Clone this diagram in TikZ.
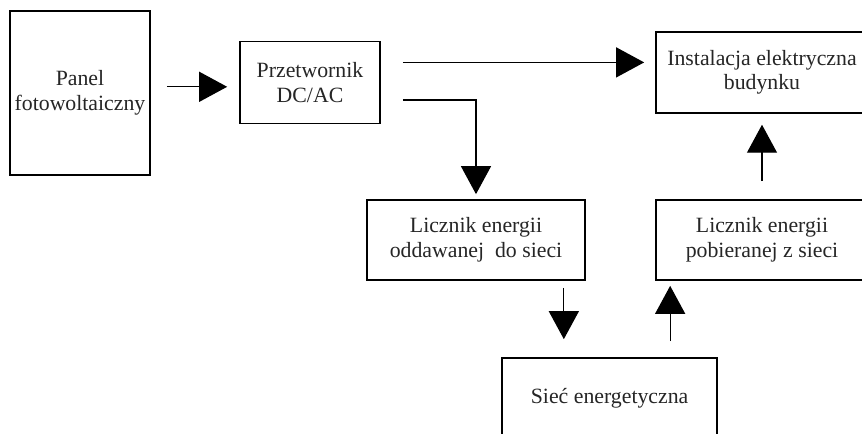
\documentclass[tikz,border=0pt]{standalone}
\usepackage{fontspec}
\setmainfont{Liberation Serif}
\usepackage{tikz}
\usepackage{xcolor}
\usetikzlibrary{arrows.meta}
\tikzstyle{block} = [rectangle, minimum height=2cm, text centered, align=center, draw=black, line width=1.2pt, text=black!85, font=\fontsize{15.5}{17.5}\selectfont]
\tikzstyle{arrow} = [line width=0.9pt, -{Triangle[length=0.7cm, width=0.75cm]}]

\begin{document}
\begin{tikzpicture}
        \clip (0,0) rectangle (21.55,-10.85);
        \fill[white] (0,0) rectangle (21.55,-10.85);

        \node (panel) [block, minimum width=3.45cm, minimum height=4.1cm] at (2,-2.325) {Panel\\fotowoltaiczny};
        \node (conv) [block, minimum width=3.5cm, minimum height=2.05cm] at (7.75,-2.06) {Przetwornik\\DC/AC};
        \node (inst) [block, minimum width=5.3cm, minimum height=2.025cm] at (19.05,-1.81) {Instalacja elektryczna\\budynku};
        \node (meter_out) [block, minimum width=5.45cm] at (11.9,-6) {Licznik energii\\oddawanej\ \ do sieci};
        \node (meter_in) [block, minimum width=5.3cm] at (19.05,-6) {Licznik energii\\pobieranej z sieci};
        \node (grid) [block, minimum width=5.375cm] at (15.24,-9.95) {Sieć energetyczna};

        \coordinate (feed) at ([yshift=-0.11cm]conv.west);
        \coordinate (out_hi) at ([yshift=0.5cm]conv.east);
        \coordinate (out_lo) at ([yshift=-0.44cm]conv.east);
        \coordinate (export) at ([xshift=-0.55cm]meter_out.south east);
        \coordinate (import) at ([xshift=0.375cm]meter_in.south west);

        \draw [arrow, shorten <=0.4cm, shorten >=0.3cm] (panel.east |- feed) -- (feed);
        \draw [arrow, shorten <=0.55cm, shorten >=0.275cm] (out_hi) -- (out_hi -| inst.west);
        \draw [arrow, shorten <=0.55cm, shorten >=0.125cm] (out_lo) -| (meter_out.north);
        \draw [arrow, shorten <=0.175cm, shorten >=0.45cm] (export) -- (export |- grid.north);
        \draw [arrow, shorten <=0.4cm, shorten >=0.125cm] (import |- grid.north) -- (import);
        \draw [arrow, shorten <=0.45cm, shorten >=0.275cm] (meter_in) -- (inst);

    \end{tikzpicture}
\end{document}
